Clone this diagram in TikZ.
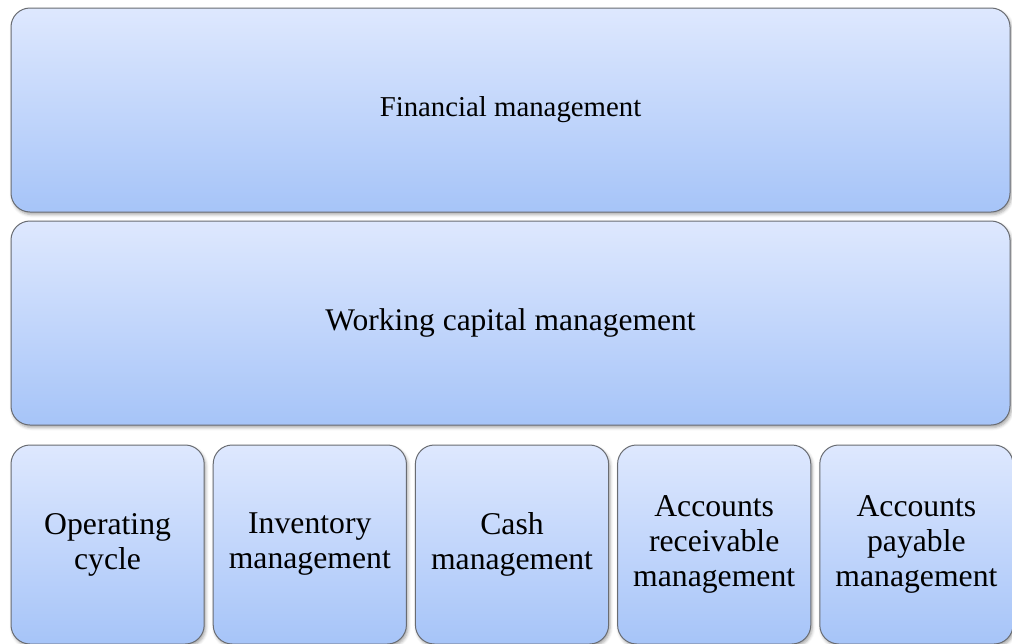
\documentclass[tikz,border=0pt]{standalone}
\usepackage{fontspec}
\setmainfont{Liberation Serif}
\usetikzlibrary{positioning}
\usetikzlibrary{shadows.blur}
\definecolor{boxtop}{RGB}{222,232,254}
\definecolor{boxbottom}{RGB}{166,196,248}
\definecolor{boxline}{RGB}{105,108,114}
\tikzset{
  panel/.style={
    draw=boxline,
    line width=1pt,
    rounded corners=19pt,
    top color=boxtop,
    bottom color=boxbottom,
    blur shadow={shadow xshift=1.5pt, shadow yshift=-2.5pt,
      shadow blur radius=3pt, shadow opacity=35},
    inner sep=0pt,
    align=center
  },
  wide/.style={
    panel,
    minimum width=999pt,
    minimum height=204pt
  },
  part/.style={
    panel,
    minimum width=193.2pt,
    minimum height=199pt,
    text width=190pt,
    font=\fontsize{31.7}{35}\selectfont
  }
}

\begin{document}
\begin{tikzpicture}
  \useasboundingbox (0pt,0pt) rectangle (1012pt,-643pt);
  \node[wide, font=\fontsize{28.8}{32}\selectfont] (Finance) at (510.5pt,-110pt)
    {Financial management};
  \node[wide, below=8pt of Finance, font=\fontsize{31.5}{35}\selectfont] (Capital)
    {Working capital management};

  \node[part, anchor=north west, below right=19pt and 0pt of Capital.south west] (Cycle)
    {Operating\\cycle};
  \node[part, right=8pt of Cycle] (Inventory) {Inventory\\management};
  \node[part, right=8pt of Inventory] (Cash) {Cash\\management};
  \node[part, right=8pt of Cash] (Receivable) {Accounts\\receivable\\management};
  \node[part, right=8pt of Receivable] (Payable) {Accounts\\payable\\management};
\end{tikzpicture}
\end{document}
